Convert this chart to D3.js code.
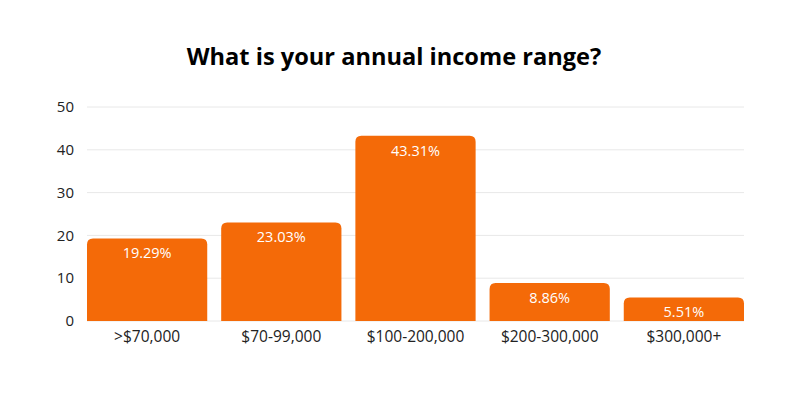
<!DOCTYPE html>
<html>
<head>
<meta charset="utf-8">
<script src="https://cdn.jsdelivr.net/npm/d3@7"></script>
<style>
  body { margin: 0; background: #fff; }
  text { font-family: "Open Sans", sans-serif; }
</style>
</head>
<body>
<script>
const categories = ['>$70,000', '$70-99,000', '$100-200,000', '$200-300,000', '$300,000+'];
const values = [19.29, 23.03, 43.31, 8.86, 5.51];
const yTicks = [0, 10, 20, 30, 40, 50];

const width = 800, height = 400;
const margin = { top: 107, right: 56, bottom: 79, left: 87 };

let svg = d3.select('body')
  .append('svg')
  .attr('width', width)
  .attr('height', height);

svg.append('text')
  .attr('x', 394)
  .attr('y', 65)
  .attr('text-anchor', 'middle')
  .style('font-family', '"Open Sans", sans-serif')
  .style('font-weight', 'bold')
  .style('font-size', '23.6px')
  .attr('fill', '#000')
  .text('What is your annual income range?');

const x = d3.scaleBand()
  .domain(categories)
  .range([margin.left, width - margin.right])
  .paddingInner(0.104)
  .paddingOuter(0);

const y = d3.scaleLinear()
  .domain([0, 50])
  .range([height - margin.bottom, margin.top]);

// gridlines
svg.append('g')
  .selectAll('line')
  .data(yTicks)
  .enter()
  .append('line')
  .attr('x1', margin.left)
  .attr('x2', width - margin.right)
  .attr('y1', (d) => y(d))
  .attr('y2', (d) => y(d))
  .attr('stroke', '#e8e8e8')
  .attr('stroke-width', 1);

// y tick labels
svg.append('g')
  .selectAll('text')
  .data(yTicks)
  .enter()
  .append('text')
  .attr('x', 74)
  .attr('y', (d) => y(d))
  .attr('dy', '0.35em')
  .attr('text-anchor', 'end')
  .style('font-size', '15px')
  .attr('fill', '#222')
  .text((d) => d);

// bars with rounded tops
const r = 6;
const barPath = (d, i) => {
  const x0 = x(categories[i]), x1 = x0 + x.bandwidth();
  const y0 = y(0), y1 = y(d);
  return `M${x0},${y0} L${x0},${y1 + r} Q${x0},${y1} ${x0 + r},${y1} ` +
    `L${x1 - r},${y1} Q${x1},${y1} ${x1},${y1 + r} L${x1},${y0} Z`;
};

svg.append('g')
  .selectAll('path')
  .data(values)
  .enter()
  .append('path')
  .attr('d', barPath)
  .attr('fill', '#f46a08');

// value labels
svg.append('g')
  .selectAll('text')
  .data(values)
  .enter()
  .append('text')
  .attr('x', (d, i) => x(categories[i]) + x.bandwidth() / 2)
  .attr('y', (d) => y(d) + 20)
  .attr('text-anchor', 'middle')
  .style('font-size', '14.5px')
  .attr('fill', '#fff')
  .text((d) => d.toFixed(2) + '%');

// category labels
svg.append('g')
  .selectAll('text')
  .data(categories)
  .enter()
  .append('text')
  .attr('x', (d) => x(d) + x.bandwidth() / 2)
  .attr('y', y(0) + 21)
  .attr('text-anchor', 'middle')
  .style('font-size', '15.5px')
  .attr('fill', '#222')
  .text((d) => d);
</script>
</body>
</html>
